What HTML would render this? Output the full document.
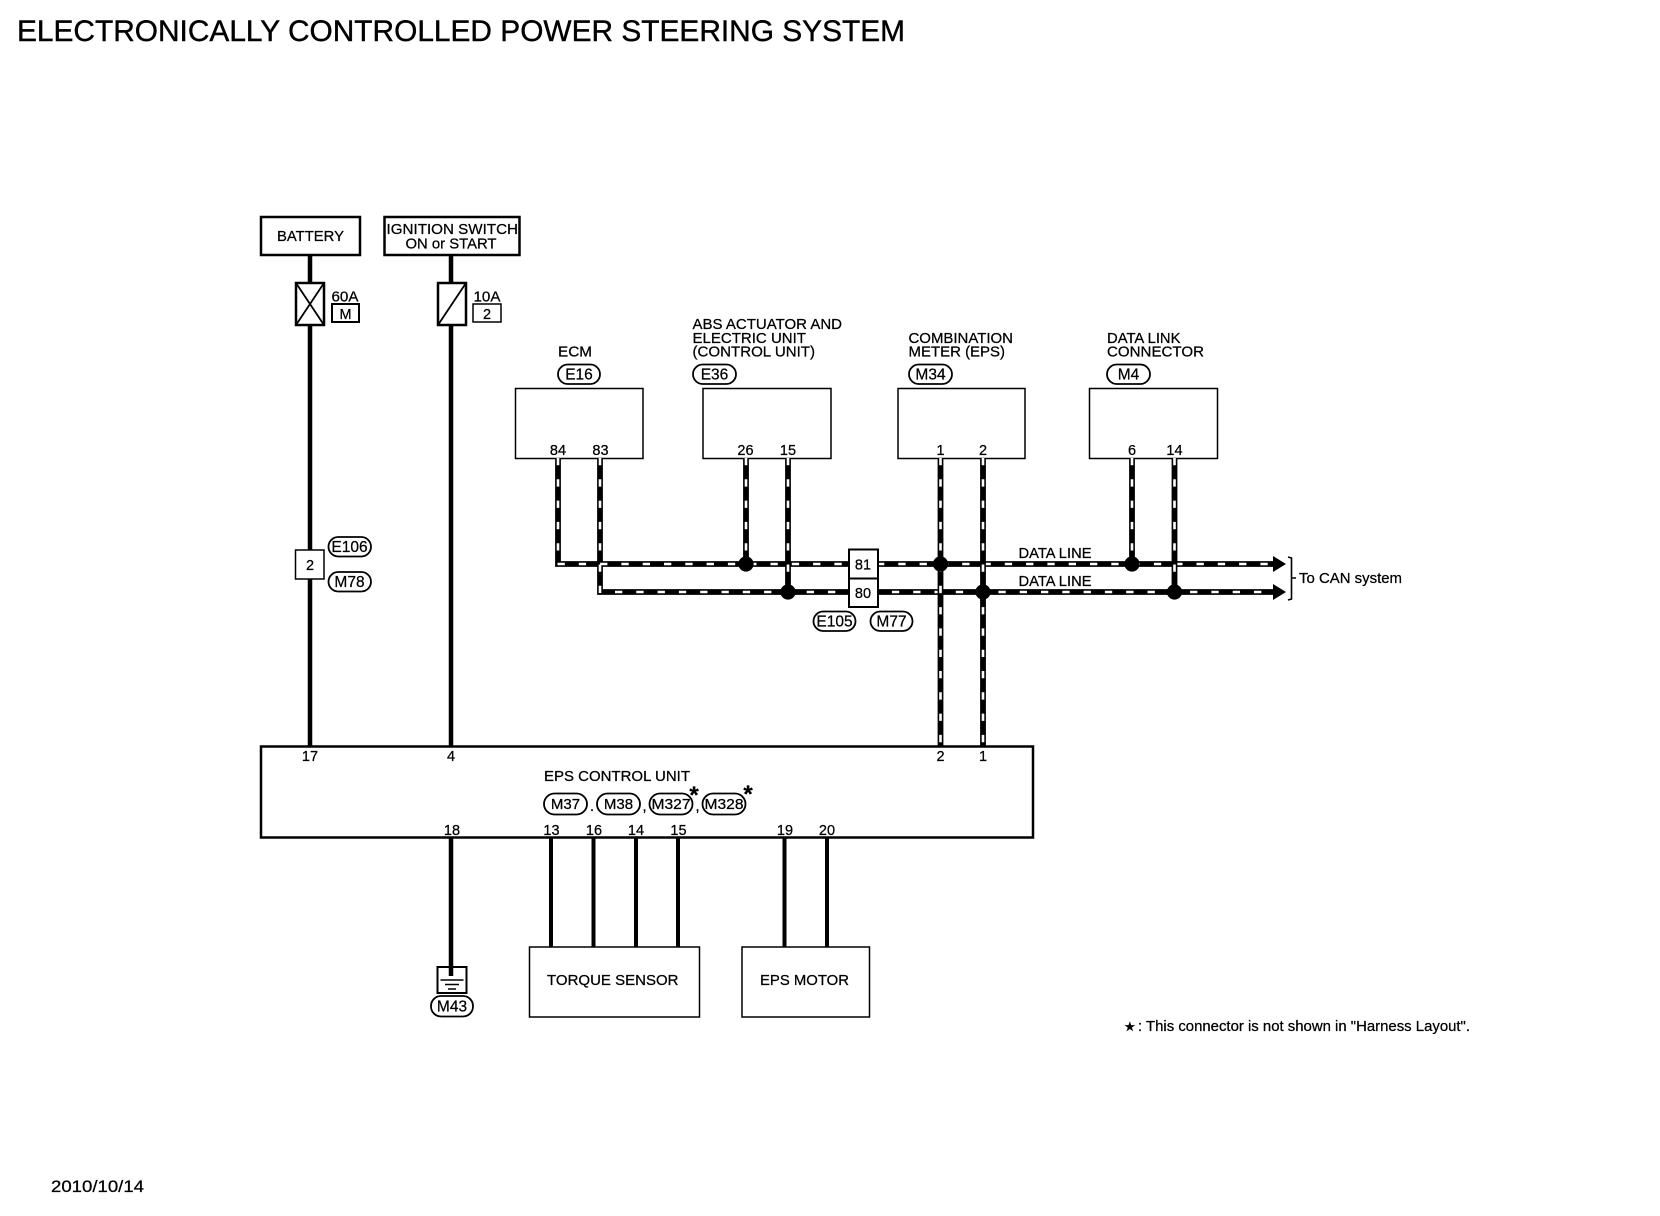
<!DOCTYPE html>
<html><head><meta charset="utf-8"><style>
html,body{margin:0;padding:0;background:#fff}
svg{display:block}
text{font-family:"Liberation Sans",sans-serif;font-size:14.5px;fill:#000;stroke:#000;stroke-width:.25}
.b{fill:#fff;stroke:#000;stroke-width:2.5}
.t{fill:#fff;stroke:#000;stroke-width:1.5}
.p{fill:#fff;stroke:#000;stroke-width:1.8}
.w{stroke:#000;stroke-width:4.5;fill:none}
.k{stroke:#000;stroke-width:5.8;fill:none;stroke-linejoin:miter}
.d{stroke:#fff;stroke-width:2.6;stroke-dasharray:7.3 14;fill:none}
.l{font-size:15.5px}
</style></head><body>
<svg xmlns="http://www.w3.org/2000/svg" width="1660" height="1216" viewBox="0 0 1660 1216">
<rect width="1660" height="1216" fill="#fff"/>
<text x="17" y="41" style="font-size:30px;stroke-width:.4" textLength="888" lengthAdjust="spacingAndGlyphs">ELECTRONICALLY CONTROLLED POWER STEERING SYSTEM</text>
<text x="51" y="1192" style="font-size:17px" textLength="93" lengthAdjust="spacingAndGlyphs">2010/10/14</text>

<!-- plain wires -->
<path class="w" d="M310 255V746M451 255V746M451 837V976"/>
<path d="M551 837V947M593.500 837V947M636 837V947M678 837V947M784.500 837V947M827 837V947" stroke="#000" stroke-width="4" fill="none"/>

<!-- source boxes -->
<rect class="b" x="261" y="217" width="99" height="38"/>
<text x="277" y="241" textLength="67" lengthAdjust="spacingAndGlyphs">BATTERY</text>
<rect class="b" x="384.500" y="217" width="135" height="38"/>
<text x="386.500" y="234" textLength="131.500" lengthAdjust="spacingAndGlyphs">IGNITION SWITCH</text>
<text x="405.500" y="248.500" textLength="91" lengthAdjust="spacingAndGlyphs">ON or START</text>

<!-- fuses -->
<rect class="b" x="296" y="283" width="28" height="42"/>
<path d="M296 283L324 325M324 283L296 325" stroke="#000" stroke-width="1.8"/>
<rect class="b" x="438" y="283" width="28" height="42"/>
<path d="M438 325L466 283" stroke="#000" stroke-width="1.8"/>
<text x="331.500" y="301.500" textLength="27" lengthAdjust="spacingAndGlyphs">60A</text>
<rect class="b" x="332" y="304" width="27" height="18" style="stroke-width:2"/>
<text x="345.500" y="319" text-anchor="middle">M</text>
<text x="473.500" y="301.500" textLength="27" lengthAdjust="spacingAndGlyphs">10A</text>
<rect class="t" x="473" y="304" width="28" height="18"/>
<text x="487" y="319" text-anchor="middle">2</text>

<!-- connector 2 -->
<rect class="t" x="295.500" y="550" width="28.500" height="29"/>
<text x="310" y="570" text-anchor="middle">2</text>
<rect class="p" x="328.500" y="537" width="42.500" height="19.500" rx="9.700"/>
<text x="349.500" y="552" text-anchor="middle" class="l">E106</text>
<rect class="p" x="328.500" y="572" width="42.500" height="19.500" rx="9.700"/>
<text x="349.500" y="587" text-anchor="middle" class="l">M78</text>

<!-- module boxes -->
<rect class="t" x="515.500" y="388.500" width="127.500" height="70"/>
<rect class="t" x="703" y="388.500" width="128" height="70"/>
<rect class="t" x="898" y="388.500" width="127" height="70"/>
<rect class="t" x="1089.500" y="388.500" width="128" height="70"/>

<text x="558" y="356.500" textLength="34" lengthAdjust="spacingAndGlyphs">ECM</text>
<rect class="p" x="558" y="364.500" width="42" height="19.500" rx="9.700"/>
<text x="579" y="379.500" text-anchor="middle" class="l">E16</text>

<text x="692.500" y="329" textLength="149.500" lengthAdjust="spacingAndGlyphs">ABS ACTUATOR AND</text>
<text x="692.500" y="343" textLength="113.500" lengthAdjust="spacingAndGlyphs">ELECTRIC UNIT</text>
<text x="692.500" y="356.500" textLength="122.500" lengthAdjust="spacingAndGlyphs">(CONTROL UNIT)</text>
<rect class="p" x="693" y="364.500" width="43" height="19.500" rx="9.700"/>
<text x="714.500" y="379.500" text-anchor="middle" class="l">E36</text>

<text x="908.500" y="343" textLength="104.500" lengthAdjust="spacingAndGlyphs">COMBINATION</text>
<text x="908.500" y="356.500" textLength="96.500" lengthAdjust="spacingAndGlyphs">METER (EPS)</text>
<rect class="p" x="909" y="364.500" width="43" height="19.500" rx="9.700"/>
<text x="930.500" y="379.500" text-anchor="middle" class="l">M34</text>

<text x="1107" y="343" textLength="73.500" lengthAdjust="spacingAndGlyphs">DATA LINK</text>
<text x="1107" y="356.500" textLength="97" lengthAdjust="spacingAndGlyphs">CONNECTOR</text>
<rect class="p" x="1107" y="364.500" width="43" height="19.500" rx="9.700"/>
<text x="1128.500" y="379.500" text-anchor="middle" class="l">M4</text>

<g text-anchor="middle">
<text x="558" y="455">84</text><text x="600.500" y="455">83</text>
<text x="745.500" y="455">26</text><text x="788" y="455">15</text>
<text x="940.500" y="455">1</text><text x="983" y="455">2</text>
<text x="1132" y="455">6</text><text x="1174.500" y="455">14</text>
</g>

<!-- data lines: black -->
<path class="k" d="M558 459V564H1276M600 459V592H1276"/>
<!-- horizontal dashes -->
<path class="d" d="M557.500 564H1273M615 592H1273"/>
<!-- verticals -->
<path class="k" d="M746 459V564M788 459V592M940.500 459V746M983 459V746M1132 459V564M1174.500 459V592"/>
<path class="d" d="M558 458V552M600 458V593M746 458V564M788 458V593M940.500 458V746M983 458V746M1132 458V564M1174.500 458V593"/>
<!-- junctions -->
<g fill="#000">
<circle cx="746" cy="564" r="7.600"/><circle cx="788" cy="592" r="7.600"/>
<circle cx="940.500" cy="564" r="7.600"/><circle cx="983" cy="592" r="7.600"/>
<circle cx="1132" cy="564" r="7.600"/><circle cx="1174.500" cy="592" r="7.600"/>
<path d="M1273 556L1286 564L1273 572Z"/>
<path d="M1273 584L1286 592L1273 600Z"/>
</g>
<!-- bracket -->
<path d="M1288 557L1291.500 558V599L1288 600M1291.500 578H1296" fill="none" stroke="#000" stroke-width="1.6"/>
<text x="1299" y="583" textLength="103" lengthAdjust="spacingAndGlyphs">To CAN system</text>

<!-- joint connector -->
<rect class="b" x="849" y="549.500" width="29" height="29" style="stroke-width:2"/>
<rect class="b" x="849" y="578.500" width="29" height="28.500" style="stroke-width:2"/>
<text x="863" y="569.500" text-anchor="middle">81</text>
<text x="863" y="598" text-anchor="middle">80</text>
<rect class="p" x="813.500" y="611.500" width="42" height="19.500" rx="9.700"/>
<text x="834.500" y="626.500" text-anchor="middle" class="l">E105</text>
<rect class="p" x="870.500" y="611.500" width="42" height="19.500" rx="9.700"/>
<text x="891.500" y="626.500" text-anchor="middle" class="l">M77</text>

<text x="1018.500" y="558" textLength="73" lengthAdjust="spacingAndGlyphs">DATA LINE</text>
<text x="1018.500" y="586" textLength="73" lengthAdjust="spacingAndGlyphs">DATA LINE</text>

<!-- EPS control unit -->
<rect class="b" x="261" y="746.500" width="772" height="91" style="fill:none"/>
<g text-anchor="middle">
<text x="310" y="761">17</text><text x="451" y="761">4</text>
<text x="940.500" y="761">2</text><text x="983" y="761">1</text>
<text x="452" y="835">18</text>
<text x="551.500" y="835">13</text><text x="594" y="835">16</text><text x="636" y="835">14</text><text x="678.500" y="835">15</text>
<text x="785" y="835">19</text><text x="827" y="835">20</text>
</g>
<text x="544" y="781" textLength="146" lengthAdjust="spacingAndGlyphs">EPS CONTROL UNIT</text>
<rect class="p" x="544" y="793.500" width="43" height="21" rx="10.500"/>
<text x="565.500" y="809" text-anchor="middle" style="font-size:15px">M37</text>
<text x="590" y="811">.</text>
<rect class="p" x="597" y="793.500" width="43" height="21" rx="10.500"/>
<text x="618.500" y="809" text-anchor="middle" style="font-size:15px">M38</text>
<text x="642.500" y="811">,</text>
<rect class="p" x="649.500" y="793.500" width="43" height="21" rx="10.500"/>
<text x="671" y="809" text-anchor="middle" style="font-size:14.500px" textLength="39" lengthAdjust="spacingAndGlyphs">M327</text>
<text x="695.500" y="811">,</text>
<rect class="p" x="702.500" y="793.500" width="43" height="21" rx="10.500"/>
<text x="724" y="809" text-anchor="middle" style="font-size:14.500px" textLength="39" lengthAdjust="spacingAndGlyphs">M328</text>
<text x="694" y="803" text-anchor="middle" style="font-size:24px;font-weight:bold">*</text>
<text x="748" y="802" text-anchor="middle" style="font-size:24px;font-weight:bold">*</text>

<!-- ground -->
<rect class="b" x="437.500" y="967" width="29" height="26" style="fill:none;stroke-width:2"/>
<path d="M440.500 980H463.500M445 984.500H459M448 989H456" stroke="#000" stroke-width="1.5"/>
<rect class="p" x="431" y="996" width="42" height="20.500" rx="10"/>
<text x="452" y="1011.500" text-anchor="middle" class="l">M43</text>

<!-- sensors -->
<rect class="t" x="529.500" y="947" width="170" height="70"/>
<text x="547" y="985" textLength="131.500" lengthAdjust="spacingAndGlyphs">TORQUE SENSOR</text>
<rect class="t" x="742" y="947" width="127.500" height="70"/>
<text x="760" y="985" textLength="89" lengthAdjust="spacingAndGlyphs">EPS MOTOR</text>

<!-- footnote -->
<text x="1124" y="1031" style="font-size:13px">★</text>
<text x="1138" y="1031" textLength="332" lengthAdjust="spacingAndGlyphs">: This connector is not shown in "Harness Layout".</text>
</svg>
</body></html>
